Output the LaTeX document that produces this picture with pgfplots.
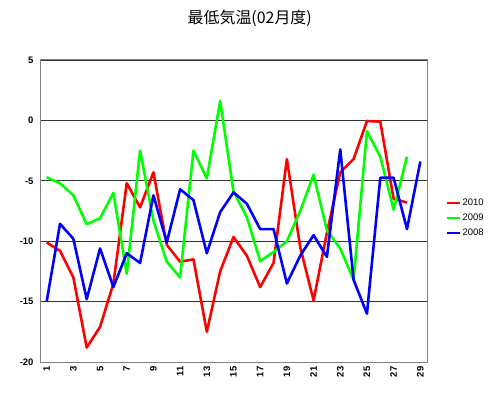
\documentclass[border=0pt]{standalone}
\usepackage{fontspec}
\setmainfont{Liberation Sans}
\newfontfamily\cjk{Noto Sans CJK JP}
\usepackage{pgfplots}
\pgfplotsset{compat=1.18}
\definecolor{cr}{RGB}{255,0,0}
\definecolor{cg}{RGB}{0,255,0}
\definecolor{cb}{RGB}{0,0,255}
\begin{document}
\begin{tikzpicture}
\path[use as bounding box] (-40bp,-34bp) rectangle (460bp,362bp);
\begin{axis}[
  at={(0,0)}, anchor=south west,
  scale only axis, width=387bp, height=302bp,
  xmin=0.5, xmax=29.5, ymin=-20, ymax=5,
  xtick={1,3,...,29},
  ytick={-20,-15,...,5},
  major tick length=0pt,
  ymajorgrids, grid style={black!80, line width=0.6pt},
  axis line style={black!50, line width=1pt},
  /pgf/number format/assume math mode=true,
  tick label style={font=\bfseries\fontsize{9.5}{11}\selectfont},
  xticklabel style={rotate=90, anchor=east, xshift=-1bp},
  yticklabel style={xshift=-3bp},
  legend style={at={(1.04,0.477)}, anchor=west, draw=none, fill=none,
    font=\fontsize{9.5}{11}\selectfont, row sep=3bp},
  legend cell align=left,
  legend image code/.code={\draw[#1, line width=2pt] (0bp,0bp) -- (13bp,0bp);},
  clip=false,
]
\addplot[cr, line width=2.6pt, line join=round] coordinates {
(1,-10.1) (2,-10.8) (3,-13.0) (4,-18.8) (5,-17.1) (6,-13.5) (7,-5.2) (8,-7.2)
(9,-4.3) (10,-10.3) (11,-11.7) (12,-11.5) (13,-17.5) (14,-12.5) (15,-9.65)
(16,-11.2) (17,-13.8) (18,-11.8) (19,-3.2) (20,-10.5) (21,-14.9) (22,-9.3)
(23,-4.3) (24,-3.2) (25,-0.05) (26,-0.1) (27,-6.5) (28,-6.8)
};
\addlegendentry{2010}
\addplot[cg, line width=2.6pt, line join=round] coordinates {
(1,-4.7) (2,-5.2) (3,-6.2) (4,-8.6) (5,-8.1) (6,-6.0) (7,-12.7) (8,-2.5)
(9,-8.3) (10,-11.7) (11,-13.0) (12,-2.5) (13,-4.8) (14,1.6) (15,-5.9)
(16,-8.0) (17,-11.65) (18,-10.9) (19,-10.0) (20,-7.5) (21,-4.5) (22,-9.1)
(23,-10.6) (24,-13.2) (25,-0.9) (26,-3.0) (27,-7.4) (28,-3.0)
};
\addlegendentry{2009}
\addplot[cb, line width=2.6pt, line join=round] coordinates {
(1,-15.0) (2,-8.56) (3,-9.8) (4,-14.8) (5,-10.6) (6,-13.8) (7,-11.0) (8,-11.8)
(9,-6.2) (10,-10.1) (11,-5.7) (12,-6.6) (13,-11.0) (14,-7.6) (15,-5.96)
(16,-6.9) (17,-9.0) (18,-9.0) (19,-13.5) (20,-11.2) (21,-9.5) (22,-11.3)
(23,-2.4) (24,-13.2) (25,-16.0) (26,-4.75) (27,-4.75) (28,-9.0) (29,-3.4)
};
\addlegendentry{2008}
\node[font=\cjk\fontsize{16}{18}\selectfont, anchor=center] at (rel axis cs:0.542,1) [yshift=42bp] {最低気温(02月度)};
\end{axis}
\end{tikzpicture}
\end{document}
